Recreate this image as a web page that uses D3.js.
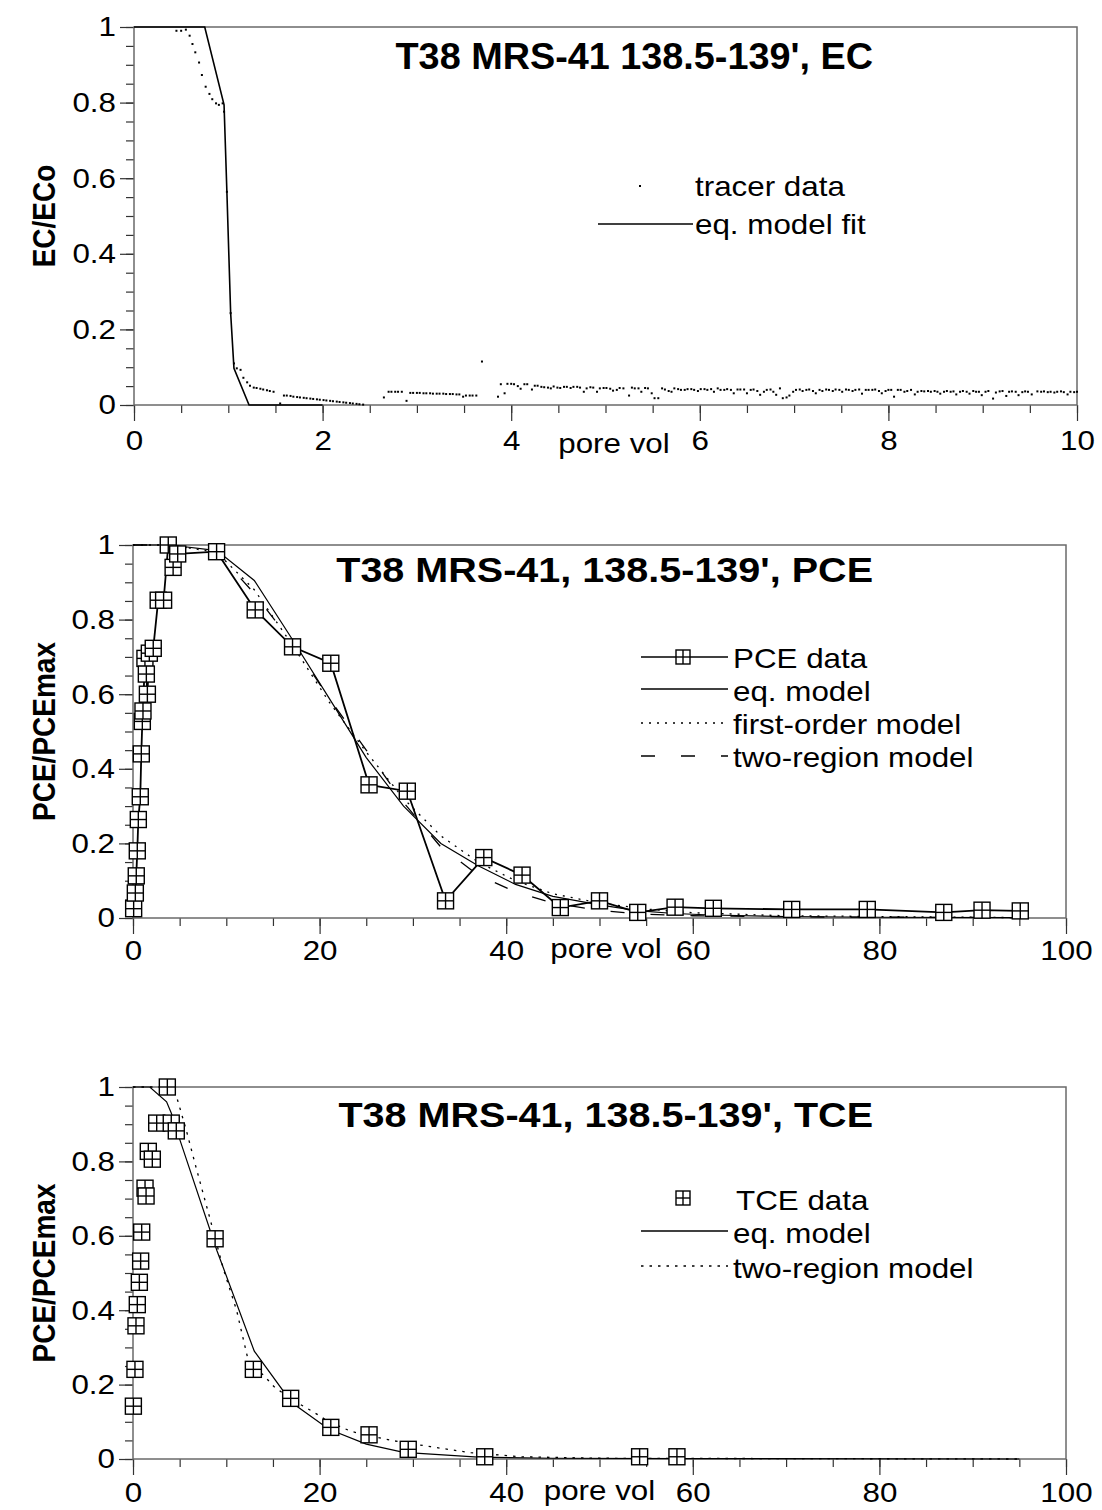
<!DOCTYPE html>
<html>
<head>
<meta charset="utf-8">
<script src="https://cdn.jsdelivr.net/npm/d3@7"></script>
<style>
body { margin: 0; background: #fff; }
text { font-family: "Liberation Sans", Arial, sans-serif; fill: #000; }
</style>
</head>
<body>
<div id="chart"></div>
<script>
// ---- data ----
var tracerData = [
[0.45,0.990],[0.50,0.990],[0.55,0.993],[0.59,0.977],[0.62,0.955],[0.65,0.933],[0.69,0.906],[0.72,0.873],[0.76,0.842],[0.80,0.823],
[0.83,0.809],[0.87,0.798],[0.90,0.794],[0.94,0.798],[0.955,0.776],[0.985,0.564],[1.025,0.243],[1.06,0.110],[1.09,0.097],[1.13,0.093],
[1.16,0.072],[1.20,0.060],[1.23,0.051],[1.27,0.046],[1.30,0.045],[1.34,0.043],[1.37,0.041],[1.41,0.039],[1.44,0.037],[1.48,0.035],
[1.55,0.004],[1.59,0.025],[1.62,0.025],[1.66,0.024],[1.69,0.022],[1.73,0.021],[1.76,0.020],[1.80,0.019],[1.83,0.018],[1.87,0.017],
[1.90,0.016],[1.94,0.015],[1.97,0.014],[2.01,0.013],[2.04,0.012],[2.08,0.011],[2.11,0.010],[2.15,0.009],[2.18,0.008],[2.22,0.007],
[2.25,0.006],[2.29,0.005],[2.32,0.004],[2.36,0.003],[2.39,0.002],[2.43,0.001],
[2.65,0.020],[2.70,0.035],[2.73,0.035],[2.77,0.035],[2.80,0.035],[2.84,0.035],[2.89,0.011],[2.93,0.032],[2.96,0.032],[3.00,0.032],
[3.03,0.032],[3.07,0.031],[3.10,0.031],[3.14,0.031],[3.17,0.030],[3.21,0.030],[3.24,0.030],[3.28,0.030],[3.31,0.029],[3.35,0.029],
[3.38,0.029],[3.42,0.028],[3.45,0.028],[3.49,0.022],[3.52,0.025],[3.56,0.025],[3.59,0.025],[3.63,0.025],[3.69,0.115],
[3.86,0.022],[3.89,0.055],[3.93,0.031],[3.96,0.056],[4.00,0.056],[4.03,0.055],[4.07,0.050],[4.10,0.043],[4.14,0.055],[4.17,0.055],
[4.22,0.041],[4.25,0.051],[4.28,0.051],[4.32,0.048],[4.35,0.047],[4.39,0.046],[4.42,0.044],[4.45,0.049],[4.49,0.046],[4.52,0.045],
[4.56,0.048],[4.59,0.048],[4.63,0.045],[4.66,0.048],[4.70,0.048],[4.73,0.046],[4.77,0.035],[4.80,0.044],[4.84,0.047],[4.87,0.046],
[4.91,0.035],[4.94,0.044],[4.98,0.045],[5.01,0.045],[5.05,0.043],[5.08,0.038],[5.12,0.040],[5.15,0.045],[5.19,0.044],[5.25,0.025],
[5.28,0.046],[5.31,0.044],[5.35,0.044],[5.38,0.035],[5.42,0.045],[5.45,0.044],[5.49,0.031],[5.52,0.018],[5.56,0.018],[5.60,0.044],
[5.63,0.041],[5.67,0.037],[5.70,0.035],[5.73,0.044],[5.77,0.042],[5.80,0.040],[5.84,0.040],[5.87,0.042],[5.91,0.042],[5.94,0.040],
[5.98,0.037],[6.01,0.042],[6.05,0.042],[6.08,0.040],[6.12,0.042],[6.15,0.035],[6.19,0.044],[6.22,0.040],[6.26,0.040],[6.29,0.042],
[6.33,0.040],[6.36,0.031],[6.40,0.041],[6.43,0.041],[6.47,0.041],[6.50,0.031],[6.54,0.040],[6.57,0.041],[6.61,0.037],[6.64,0.027],
[6.68,0.035],[6.71,0.040],[6.75,0.041],[6.78,0.035],[6.81,0.027],[6.85,0.044],[6.88,0.018],[6.92,0.020],[6.95,0.025],[6.99,0.035],
[7.02,0.040],[7.06,0.041],[7.09,0.037],[7.13,0.040],[7.16,0.041],[7.20,0.037],[7.23,0.031],[7.27,0.040],[7.30,0.037],[7.34,0.041],
[7.37,0.040],[7.41,0.037],[7.44,0.041],[7.48,0.040],[7.51,0.035],[7.55,0.041],[7.58,0.040],[7.62,0.037],[7.65,0.040],[7.69,0.041],
[7.72,0.030],[7.76,0.040],[7.79,0.040],[7.83,0.040],[7.86,0.041],[7.90,0.037],[7.93,0.031],[7.97,0.037],[8.00,0.040],[8.03,0.040],
[8.06,0.022],[8.10,0.040],[8.13,0.040],[8.17,0.035],[8.20,0.037],[8.24,0.040],[8.28,0.028],[8.31,0.035],[8.35,0.037],[8.38,0.036],
[8.42,0.037],[8.45,0.035],[8.49,0.037],[8.52,0.035],[8.55,0.030],[8.59,0.035],[8.62,0.037],[8.66,0.035],[8.69,0.036],[8.72,0.028],
[8.76,0.035],[8.79,0.037],[8.83,0.035],[8.86,0.030],[8.90,0.037],[8.93,0.035],[8.96,0.035],[8.99,0.026],[9.03,0.035],[9.06,0.037],
[9.11,0.017],[9.14,0.033],[9.18,0.036],[9.21,0.037],[9.25,0.024],[9.28,0.035],[9.31,0.036],[9.35,0.035],[9.38,0.026],[9.42,0.034],
[9.45,0.036],[9.48,0.035],[9.52,0.028],[9.58,0.036],[9.62,0.035],[9.65,0.036],[9.69,0.034],[9.72,0.035],[9.76,0.033],[9.79,0.035],
[9.83,0.036],[9.86,0.034],[9.90,0.028],[9.93,0.035],[9.97,0.034],[10.00,0.035]
];
var ecModel = [[0,1],[0.75,1],[0.955,0.794],[0.985,0.564],[1.025,0.243],[1.06,0.097],[1.22,0],[2.0,0]];

var pceData = [
[0.07,0.025],[0.25,0.067],[0.35,0.113],[0.46,0.18],[0.57,0.264],[0.78,0.325],[0.89,0.44],[1.0,0.527],[1.07,0.555],[1.28,0.696],
[1.43,0.654],[1.54,0.6],[1.75,0.71],[2.17,0.723],[2.7,0.852],[3.28,0.852],[3.78,1.0],[4.3,0.94],[4.79,0.976],[8.96,0.982],
[13.1,0.826],[17.1,0.727],[21.2,0.683],[25.3,0.357],[29.4,0.34],[33.5,0.046],[37.6,0.162],[41.7,0.115],[45.8,0.028],[50.0,0.046],
[54.1,0.015],[58.1,0.029],[62.2,0.026],[70.6,0.023],[78.7,0.023],[86.9,0.015],[91.0,0.021],[95.1,0.019]
];
var pceEqModel = [[0,1],[4,1],[9,0.985],[13,0.905],[17,0.75],[21,0.59],[25,0.43],[29,0.3],[33,0.2],[37,0.14],[41,0.09],[45,0.058],
[50,0.035],[54,0.02],[58,0.012],[62,0.008],[70,0.004],[80,0.002],[95,0.001]];
var pceFirstOrder = [[0,1],[4,1],[9,0.98],[13,0.88],[17,0.735],[21,0.58],[25,0.445],[29,0.32],[33,0.22],[37,0.15],[41,0.1],[45,0.065],
[50,0.04],[55,0.024],[60,0.014],[70,0.006],[95,0.001]];
var pceTwoRegion = [[0,1],[4,1],[9,0.98],[13,0.87],[17,0.74],[21,0.59],[25,0.45],[29,0.31],[33,0.19],[37,0.115],[41,0.07],[45,0.04],
[50,0.02],[55,0.01],[60,0.006],[70,0.003],[95,0.001]];

var tceData = [
[0.04,0.142],[0.21,0.241],[0.32,0.358],[0.46,0.415],[0.68,0.475],[0.82,0.532],[0.93,0.61],[1.29,0.728],[1.4,0.707],[1.64,0.827],
[2.07,0.806],[2.54,0.903],[3.68,1.0],[4.1,0.903],[4.64,0.882],[8.8,0.592],[12.9,0.241],[16.9,0.163],[21.2,0.085],[25.3,0.065],
[29.5,0.026],[37.7,0.006],[54.3,0.006],[58.3,0.006]
];
var tceEqModel = [[0,1],[1.8,1],[3.6,0.96],[4.1,0.93],[5,0.86],[9,0.56],[13,0.29],[17,0.152],[21,0.08],[25,0.04],[29,0.018],
[37,0.005],[45,0.002],[60,0.001],[95,0]];
var tceTwoRegion = [[0,1],[3.7,1],[4.6,0.98],[5.7,0.885],[6.8,0.78],[8.1,0.66],[9.7,0.51],[11.1,0.4],[12.4,0.26],[14,0.225],
[15.1,0.195],[17,0.16],[19.3,0.127],[21,0.1],[23.4,0.074],[25,0.065],[27.7,0.05],[31.9,0.033],[36.2,0.017],[41.6,0.006],[50,0.002],[95,0]];

var ratioTicks = [0, 0.2, 0.4, 0.6, 0.8, 1];
var ecTicksX = [0, 2, 4, 6, 8, 10];
var pceTicksX = [0, 20, 40, 60, 80, 100];

// ---- drawing ----
var width = 1102, height = 1510;
var SX = 1.12;   // the picture's lettering is stretched sideways
var axisColor = "#6a6a6a";

var svg = d3.select("#chart").append("svg").attr("width", width).attr("height", height);
svg.append("rect").attr("width", width).attr("height", height).attr("fill", "#fff");

function txt(g, x, y, s, anchor, size, bold, sx) {
	return g.append("text")
		.attr("transform", "translate(" + x + "," + y + ") scale(" + (sx || SX) + ",1)")
		.attr("text-anchor", anchor)
		.attr("font-size", size)
		.attr("font-weight", bold ? "bold" : "normal")
		.text(s);
}

function panel(p) {
	var g = svg.append("g");
	var x = d3.scaleLinear().domain([0, p.xMax]).range([p.left, p.right]);
	var y = d3.scaleLinear().domain([0, 1]).range([p.bottom, p.top]);

	// minor ticks
	g.append("g").attr("transform", "translate(0," + p.bottom + ")")
		.call(d3.axisBottom(x).tickValues(d3.range(0, p.xMax + 1e-9, p.xMinor)).tickSize(8).tickFormat(""));
	g.append("g").attr("transform", "translate(" + p.left + ",0)")
		.call(d3.axisLeft(y).tickValues(d3.range(0, 1.0001, 0.05)).tickSize(8).tickFormat(""));
	// major ticks
	g.append("g").attr("transform", "translate(0," + p.bottom + ")")
		.call(d3.axisBottom(x).tickValues(p.xTicks).tickSize(16).tickPadding(p.xPad).tickFormat(d3.format("")));
	g.append("g").attr("transform", "translate(" + p.left + ",0)")
		.call(d3.axisLeft(y).tickValues(ratioTicks).tickSize(14).tickPadding(4).tickFormat(d3.format("")));

	g.selectAll(".domain").remove();
	g.selectAll(".tick line").attr("stroke", "#333").attr("stroke-width", 1.2);
	g.selectAll(".tick text").each(function() {
		var t = d3.select(this);
		var tx = +t.attr("x") || 0;
		t.attr("x", 0).attr("transform", "translate(" + tx + ",0) scale(" + SX + ",1)");
	}).attr("font-size", 28).attr("font-family", "Liberation Sans, Arial, sans-serif").attr("fill", "#000");

	// frame
	g.append("rect").attr("x", p.left).attr("y", p.top)
		.attr("width", p.right - p.left).attr("height", p.bottom - p.top)
		.attr("fill", "none").attr("stroke", axisColor).attr("stroke-width", 1.5);

	txt(g, 873, p.titleY, p.title, "end", p.titleSize, true, p.titleSX);
	txt(g, x(p.poreAt), p.bottom + p.poreGap, "pore vol", "middle", 28);
	g.append("text")
		.attr("transform", "translate(" + 55 + "," + ((p.top + p.bottom) / 2) + ") scale(" + SX + ",1) rotate(-90)")
		.attr("text-anchor", "middle").attr("font-size", 28).attr("font-weight", "bold")
		.text(p.yLabel);

	return { g: g, x: x, y: y };
}

function line(c, data, dash, w) {
	var ln = d3.line().x(function(d) { return c.x(d[0]); }).y(function(d) { return c.y(d[1]); });
	c.g.append("path").datum(data)
		.attr("d", ln)
		.attr("fill", "none")
		.attr("stroke", "#000")
		.attr("stroke-width", w || 1.3)
		.attr("stroke-dasharray", dash || null);
}

function boxMark(g, cx, cy, s) {
	var h = s / 2;
	var m = g.append("g").attr("transform", "translate(" + cx + "," + cy + ")");
	m.append("rect").attr("x", -h).attr("y", -h).attr("width", s).attr("height", s)
		.attr("fill", "#fff").attr("stroke", "#000").attr("stroke-width", 1.4);
	m.append("line").attr("x1", 0).attr("x2", 0).attr("y1", -h).attr("y2", h).attr("stroke", "#000").attr("stroke-width", 1.4);
	m.append("line").attr("x1", -h).attr("x2", h).attr("y1", 0).attr("y2", 0).attr("stroke", "#000").attr("stroke-width", 1.4);
}

function legendLine(g, x1, x2, y, dash, w) {
	g.append("line").attr("x1", x1).attr("x2", x2).attr("y1", y).attr("y2", y)
		.attr("stroke", "#000").attr("stroke-width", w || 1.3).attr("stroke-dasharray", dash || null);
}

// ---- top: EC ----
var ec = panel({ left: 134, right: 1077, top: 27, bottom: 405, xMax: 10, xMinor: 0.5, xTicks: ecTicksX, xPad: 9,
	title: "T38 MRS-41 138.5-139', EC", titleY: 69, titleSize: 36, titleSX: 1.05,
	poreAt: 5.09, poreGap: 48, yLabel: "EC/ECo" });
line(ec, ecModel, null, 1.6);
ec.g.selectAll(".dot").data(tracerData).enter().append("rect")
	.attr("class", "dot")
	.attr("x", function(d) { return ec.x(d[0]) - 1; })
	.attr("y", function(d) { return ec.y(d[1]) - 1; })
	.attr("width", 2).attr("height", 2).attr("fill", "#000");
ec.g.append("rect").attr("x", 639).attr("y", 185).attr("width", 2).attr("height", 2).attr("fill", "#000");
txt(ec.g, 695, 196, "tracer data", "start", 28);
legendLine(ec.g, 598, 693, 224, null, 1.4);
txt(ec.g, 695, 234, "eq. model fit", "start", 28);

// ---- middle: PCE ----
var pce = panel({ left: 133, right: 1066, top: 545, bottom: 918, xMax: 100, xMinor: 5, xTicks: pceTicksX, xPad: 6,
	title: "T38 MRS-41, 138.5-139', PCE", titleY: 582, titleSize: 35, titleSX: 1.13,
	poreAt: 50.7, poreGap: 40, yLabel: "PCE/PCEmax" });
line(pce, pceEqModel, null, 1.2);
line(pce, pceFirstOrder, "2,6", 1.3);
line(pce, pceTwoRegion, "14,26", 1.3);
line(pce, pceData, null, 1.8);
pceData.forEach(function(d) { boxMark(pce.g, pce.x(d[0]), pce.y(d[1]), 16); });
legendLine(pce.g, 641, 728, 657, null, 1.4);
boxMark(pce.g, 683, 657, 14);
txt(pce.g, 733, 668, "PCE data", "start", 28);
legendLine(pce.g, 641, 728, 689, null, 1.3);
txt(pce.g, 733, 701, "eq. model", "start", 28);
legendLine(pce.g, 641, 728, 723, "2,6", 1.3);
txt(pce.g, 733, 734, "first-order model", "start", 28);
legendLine(pce.g, 641, 728, 756, "14,26", 1.3);
txt(pce.g, 733, 767, "two-region model", "start", 28);

// ---- bottom: TCE ----
var tce = panel({ left: 133, right: 1066, top: 1087, bottom: 1459, xMax: 100, xMinor: 5, xTicks: pceTicksX, xPad: 7,
	title: "T38 MRS-41, 138.5-139', TCE", titleY: 1127, titleSize: 35, titleSX: 1.13,
	poreAt: 50.0, poreGap: 41, yLabel: "PCE/PCEmax" });
line(tce, tceEqModel, null, 1.2);
line(tce, tceTwoRegion, "2.5,6", 1.3);
tceData.forEach(function(d) { boxMark(tce.g, tce.x(d[0]), tce.y(d[1]), 16); });
boxMark(tce.g, 683, 1198, 14);
txt(tce.g, 736, 1210, "TCE data", "start", 28);
legendLine(tce.g, 641, 728, 1231, null, 1.3);
txt(tce.g, 733, 1243, "eq. model", "start", 28);
legendLine(tce.g, 641, 728, 1266, "2.5,6", 1.3);
txt(tce.g, 733, 1278, "two-region model", "start", 28);
</script>
</body>
</html>
